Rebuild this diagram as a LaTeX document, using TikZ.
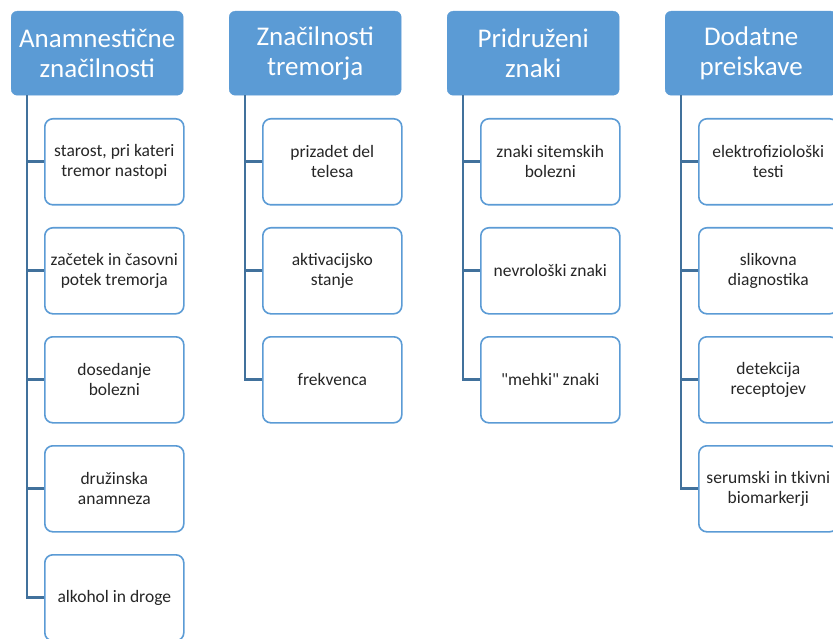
\documentclass[tikz,border=0pt]{standalone}
\usepackage{fontspec}
\setmainfont{Carlito}[Ligatures=TeXOff]
\usepackage{tikz}
\definecolor{hdrblue}{RGB}{91,155,213}
\definecolor{linkblue}{RGB}{65,113,156}

\begin{document}
\begin{tikzpicture}[x=1pt,y=-1pt,
    header/.style={draw=hdrblue, fill=hdrblue, rounded corners=6pt, anchor=north west,
      minimum width=172pt, minimum height=84pt, align=center, text=white,
      font=\fontsize{27}{30}\selectfont},
    item/.style={draw=hdrblue, line width=1.6pt, fill=white, rounded corners=8pt, anchor=north west,
      minimum width=139pt, minimum height=86pt, align=center, text=black!85,
      font=\fontsize{17.5}{20}\selectfont},
    link/.style={draw=linkblue, line width=2.8pt}]
  \useasboundingbox (0,0) rectangle (833,639);
  \clip (0,0) rectangle (833,639);
  \def \colstep {218}
  \def \rowstep {109}
  % column headers
  \foreach \t [count=\i] in {Anamnestične\\značilnosti, Značilnosti\\tremorja, Pridruženi\\znaki, Dodatne\\preiskave}
    \node[header] (h\i) at ({11+\colstep*(\i-1)},11) {\t};
  % items below each header
  \foreach \t [count=\j] in {{starost, pri kateri\\tremor nastopi}, {začetek in časovni\\potek tremorja},
      {dosedanje\\bolezni}, {družinska\\anamneza}, {alkohol in droge}}
  {
    \node[item] (a\j) at (44,{118+\rowstep*(\j-1)}) {\t};
    \draw[link] ([xshift=16pt]h1.south west) |- (a\j.west);
  }
  \foreach \t [count=\j] in {{prizadet del\\telesa}, {aktivacijsko\\stanje}, {frekvenca}}
  {
    \node[item] (b\j) at ({44+\colstep},{118+\rowstep*(\j-1)}) {\t};
    \draw[link] ([xshift=16pt]h2.south west) |- (b\j.west);
  }
  \foreach \t [count=\j] in {{znaki sitemskih\\bolezni}, {nevrološki znaki}, {"mehki" znaki}}
  {
    \node[item] (c\j) at ({44+2*\colstep},{118+\rowstep*(\j-1)}) {\t};
    \draw[link] ([xshift=16pt]h3.south west) |- (c\j.west);
  }
  \foreach \t [count=\j] in {{elektrofiziološki\\testi}, {slikovna\\diagnostika}, {detekcija\\receptojev},
      {serumski in tkivni\\biomarkerji}}
  {
    \node[item] (d\j) at ({44+3*\colstep},{118+\rowstep*(\j-1)}) {\t};
    \draw[link] ([xshift=16pt]h4.south west) |- (d\j.west);
  }
\end{tikzpicture}
\end{document}
